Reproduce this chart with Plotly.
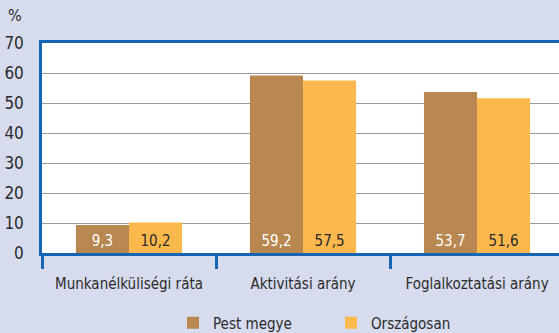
import plotly.graph_objects as go

categories = ["Munkanélküliségi ráta", "Aktivitási arány", "Foglalkoztatási arány"]
pest_megye = [9.3, 59.2, 53.7]
orszagosan = [10.2, 57.5, 51.6]
y_ticks = [0, 10, 20, 30, 40, 50, 60, 70]

BG = "#D6DCEE"
BLUE = "#1565B4"
FONT = "DejaVu Sans Condensed, Liberation Sans Narrow, sans-serif"


def fmt(v):
    return f"{v:.1f}".replace(".", ",")


fig = go.Figure()
fig.add_trace(go.Bar(
    name="Pest megye", x=categories, y=pest_megye,
    marker=dict(color="#B98850", line=dict(width=0)),
    text=[fmt(v) for v in pest_megye], textposition="inside",
    insidetextanchor="start", textangle=0,
    textfont=dict(color="white", size=15, family=FONT),
))
fig.add_trace(go.Bar(
    name="Országosan", x=categories, y=orszagosan,
    marker=dict(color="#FBB84C", line=dict(width=0)),
    text=[fmt(v) for v in orszagosan], textposition="inside",
    insidetextanchor="start", textangle=0,
    textfont=dict(color="#2B2B2B", size=15, family=FONT),
))

fig.update_layout(
    width=559, height=333,
    margin=dict(l=42, r=0, t=43, b=80),
    paper_bgcolor=BG, plot_bgcolor="white",
    barmode="group", bargap=0.39, bargroupgap=0,
    font=dict(family=FONT, size=15, color="#2B2B2B"),
    showlegend=True,
    legend=dict(orientation="h", xref="container", yref="container",
                x=173 / 559, xanchor="left", y=10 / 333, yanchor="middle",
                font=dict(size=15), bgcolor="rgba(0,0,0,0)",
                entrywidth=113, entrywidthmode="pixels"),
    xaxis=dict(
        type="category", range=[-0.5, 2.471], automargin=False,
        showline=True, linecolor=BLUE, linewidth=2.5, mirror=True,
        ticks="outside", tickson="boundaries", ticklen=13, tickwidth=2.5,
        tickcolor=BLUE, showgrid=False, tickfont=dict(size=15),
        ticklabelstandoff=15,
    ),
    yaxis=dict(
        range=[0, 70], tickvals=y_ticks, showline=True, linecolor=BLUE,
        linewidth=2.5, showgrid=True, gridcolor="#9A9A9A", gridwidth=1.2,
        zeroline=False, ticks="", ticklabelstandoff=12, automargin=False,
        tickfont=dict(size=17),
    ),
    annotations=[dict(text="%", xref="paper", yref="paper", x=-0.052, y=1.0,
                      yshift=28, xanchor="center", yanchor="middle",
                      showarrow=False, font=dict(size=16))],
)

fig.write_html("out.html")
